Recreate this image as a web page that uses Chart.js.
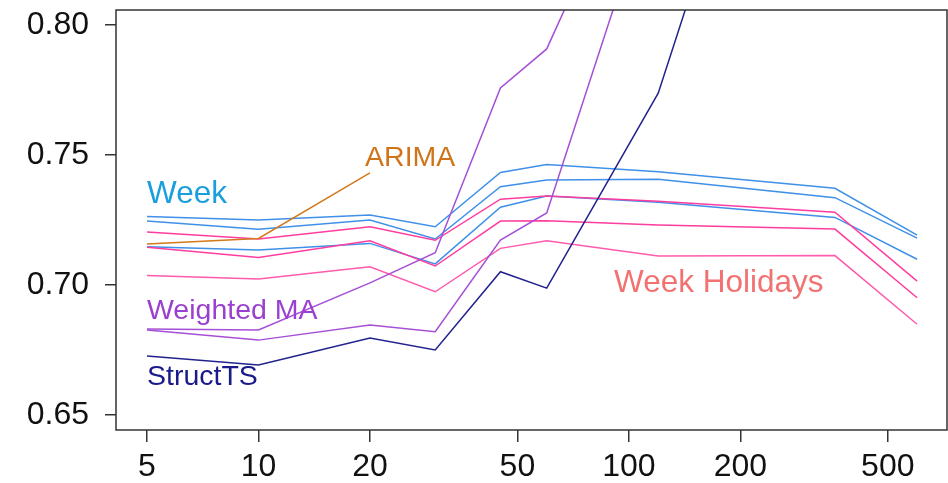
<!DOCTYPE html>
<html>
<head>
<meta charset="utf-8">
<script src="https://cdn.jsdelivr.net/npm/chart.js@4.4.1/dist/chart.umd.min.js"></script>
<style>
  html, body { margin: 0; padding: 0; background: #fff; }
</style>
</head>
<body>
<canvas id="chart" width="948" height="483"></canvas>
<script>
/* ===== data ===== */
const horizons = [5, 10, 20, 30, 45, 60, 120, 360, 600];
const xTicks   = [5, 10, 20, 50, 100, 200, 500];
const yTicks   = [0.65, 0.70, 0.75, 0.80];

const week1    = [0.7263, 0.7250, 0.7269, 0.7224, 0.7433, 0.7463, 0.7436, 0.7372, 0.7192];
const week2    = [0.7246, 0.7214, 0.7250, 0.7177, 0.7378, 0.7404, 0.7407, 0.7336, 0.7180];
const week3    = [0.7147, 0.7135, 0.7160, 0.7081, 0.7299, 0.7342, 0.7318, 0.7260, 0.7099];
const holi1    = [0.7204, 0.7177, 0.7224, 0.7172, 0.7330, 0.7342, 0.7322, 0.7280, 0.7015];
const holi2    = [0.7145, 0.7106, 0.7170, 0.7073, 0.7246, 0.7247, 0.7231, 0.7215, 0.6951];
const holi3    = [0.7037, 0.7023, 0.7070, 0.6974, 0.7141, 0.7170, 0.7112, 0.7113, 0.6849];
const wma1     = [0.6831, 0.6827, 0.7008, 0.7124, 0.7758, 0.7908, 0.8854, null, null];
const wma2     = [0.6827, 0.6788, 0.6846, 0.6820, 0.7173, 0.7277, 0.8590, null, null];
const structTS = [0.6727, 0.6692, 0.6796, 0.6750, 0.7051, 0.6988, 0.7738, 0.9830, null];
const arima    = [0.7158, 0.7179, 0.7431, null, null, null, null, null, null];

const FONT = '"Liberation Sans", Arial, Helvetica, sans-serif';
const FSIZE = 32;
const AXIS = '#333';

function pts(vals) {
  return horizons.map((h, i) => ({ x: h, y: vals[i] }));
}

function line(vals, color) {
  return {
    data: pts(vals),
    borderColor: color,
    borderWidth: 1.5,
    pointRadius: 0,
    tension: 0,
    spanGaps: false
  };
}

/* ===== labels + box ===== */
const labels = [
  { text: 'Week',          color: '#1a9fdc', size: 31.5, x: 5,    y: 0.7315 },
  { text: 'ARIMA',         color: '#d0741a', size: 28.5, x: 19.4, y: 0.7459 },
  { text: 'Weighted MA',   color: '#9b3fcf', size: 28.5, x: 5,    y: 0.6868 },
  { text: 'StructTS',      color: '#1a1a8a', size: 28.5, x: 5,    y: 0.6615 },
  { text: 'Week Holidays', color: '#f27272', size: 31.5, x: 91.2, y: 0.6974 }
];

const overlay = {
  id: 'overlay',
  afterDatasetsDraw(chart) {
    const { ctx, chartArea: a, scales } = chart;
    ctx.save();
    ctx.strokeStyle = AXIS;
    ctx.lineWidth = 1.5;
    ctx.strokeRect(a.left, a.top, a.right - a.left, a.bottom - a.top);
    ctx.textAlign = 'left';
    ctx.textBaseline = 'alphabetic';
    labels.forEach(l => {
      ctx.font = l.size + 'px ' + FONT;
      ctx.fillStyle = l.color;
      ctx.fillText(l.text, scales.x.getPixelForValue(l.x), scales.y.getPixelForValue(l.y));
    });
    ctx.restore();
  }
};

/* ===== chart ===== */
new Chart(document.getElementById('chart'), {
  type: 'line',
  data: {
    datasets: [
      line(arima, '#d2791c'),
      line(structTS, '#22228e'),
      line(wma1, '#a64fd6'),
      line(wma2, '#a64fd6'),
      line(holi1, '#ff3d9e'),
      line(holi2, '#ff3d9e'),
      line(holi3, '#ff5aac'),
      line(week1, '#3f90e8'),
      line(week2, '#3f90e8'),
      line(week3, '#3f90e8')
    ]
  },
  options: {
    responsive: false,
    animation: false,
    layout: { padding: { top: 10, right: 1, left: 0, bottom: 0 } },
    plugins: { legend: { display: false }, tooltip: { enabled: false } },
    scales: {
      x: {
        type: 'logarithmic',
        min: 4.124,
        max: 722.5,
        afterBuildTicks: s => { s.ticks = xTicks.map(v => ({ value: v })); },
        afterFit: s => { s.height = 53; s.paddingLeft = 0; s.paddingRight = 0; },
        border: { display: false },
        grid: { drawOnChartArea: false, drawTicks: true, tickLength: 12, color: AXIS, lineWidth: 1.5 },
        ticks: {
          autoSkip: false, maxRotation: 0, padding: 6, color: '#111',
          font: { size: FSIZE, family: FONT },
          callback: v => String(v)
        }
      },
      y: {
        min: 0.64423,
        max: 0.80577,
        afterBuildTicks: s => { s.ticks = yTicks.map(v => ({ value: v })); },
        afterFit: s => { s.width = 116; s.paddingTop = 0; s.paddingBottom = 0; },
        border: { display: false },
        grid: { drawOnChartArea: false, drawTicks: true, tickLength: 11, color: AXIS, lineWidth: 1.5 },
        ticks: {
          padding: 16, color: '#111',
          font: { size: FSIZE, family: FONT },
          callback: v => v.toFixed(2)
        }
      }
    }
  },
  plugins: [overlay]
});
</script>
</body>
</html>
